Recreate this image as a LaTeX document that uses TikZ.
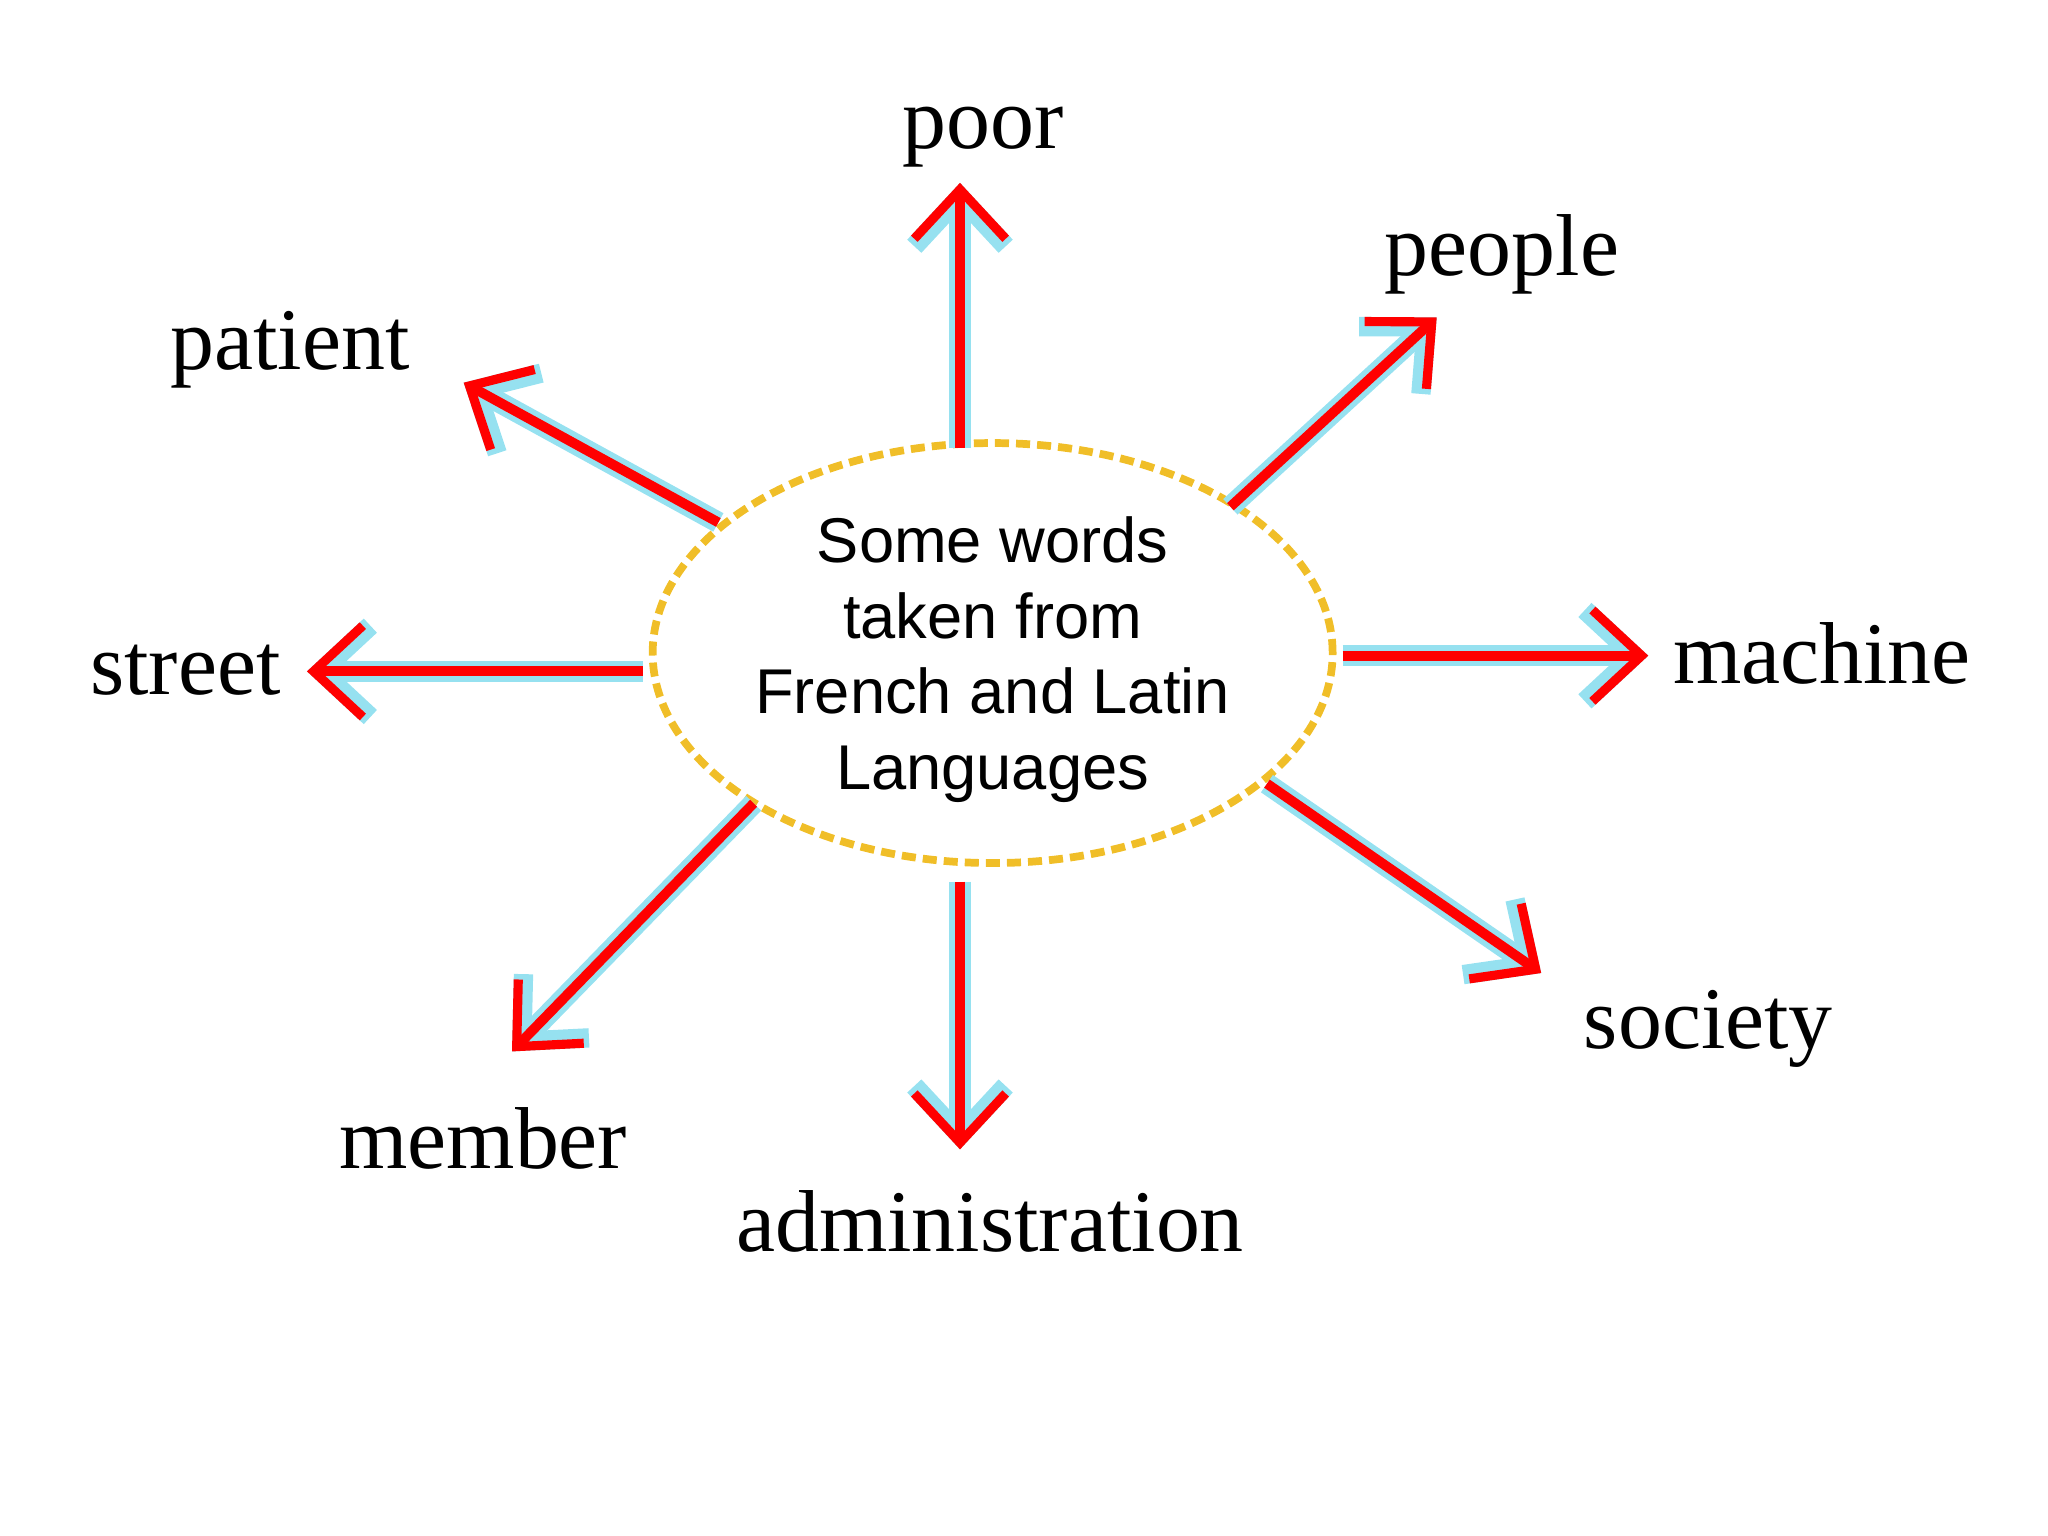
\documentclass[tikz,border=0pt]{standalone}
\usepackage{fontspec}
\setmainfont{Liberation Serif}
\newfontfamily\cfont{Liberation Sans}
\usetikzlibrary{arrows.meta,shapes.geometric}
\definecolor{glow}{RGB}{150,225,240}
\definecolor{gold}{RGB}{240,190,40}
\tikzset{
 word/.style={font=\fontsize{25}{28}\selectfont},
 arr/.style={-{Straight Barb[length=14pt,width=26pt,line width=2.6pt]},red,line width=2.8pt,
   preaction={draw=glow,line width=6pt,-{Straight Barb[length=14pt,width=26pt,line width=5.5pt]}}},
}
\begin{document}
\begin{tikzpicture}[x=0.01306cm,y=-0.01306cm]
\useasboundingbox (0,0) rectangle (1568,1176);
\node[ellipse,draw=gold,dashed,line width=2.2pt,dash pattern=on 4pt off 2pt,minimum width=520\pgflinewidth,
  minimum width=6.8cm,minimum height=4.2cm] (c) at (760,500) {};
\node[font=\cfont\fontsize{18}{21.5}\selectfont,align=center] (ct) at (760,505)
 {Some words\\taken from\\French and Latin\\Languages};
\node[word] (poor) at (753,105) {poor};
\node[word] (people) at (1150,195) {people};
\node[word] (patient) at (222,268) {patient};
\node[word] (street) at (142,513) {street};
\node[word] (machine) at (1395,500) {machine};
\node[word] (society) at (1308,788) {society};
\node[word] (admin) at (758,935) {administration};
\node[word] (member) at (370,872) {member};
\coordinate (p1) at (735,343); \coordinate (q1) at (735,140);
\coordinate (p2) at (942,388); \coordinate (q2) at (1100,243);
\coordinate (p3) at (550,400); \coordinate (q3) at (355,293);
\coordinate (p4) at (492,514); \coordinate (q4) at (235,514);
\coordinate (p5) at (1028,502); \coordinate (q5) at (1262,502);
\coordinate (p6) at (970,600); \coordinate (q6) at (1180,745);
\coordinate (p7) at (735,675); \coordinate (q7) at (735,880);
\coordinate (p8) at (577,615); \coordinate (q8) at (392,805);
\foreach \i in {1,...,8} \draw[arr] (p\i) -- (q\i);
\end{tikzpicture}
\end{document}
